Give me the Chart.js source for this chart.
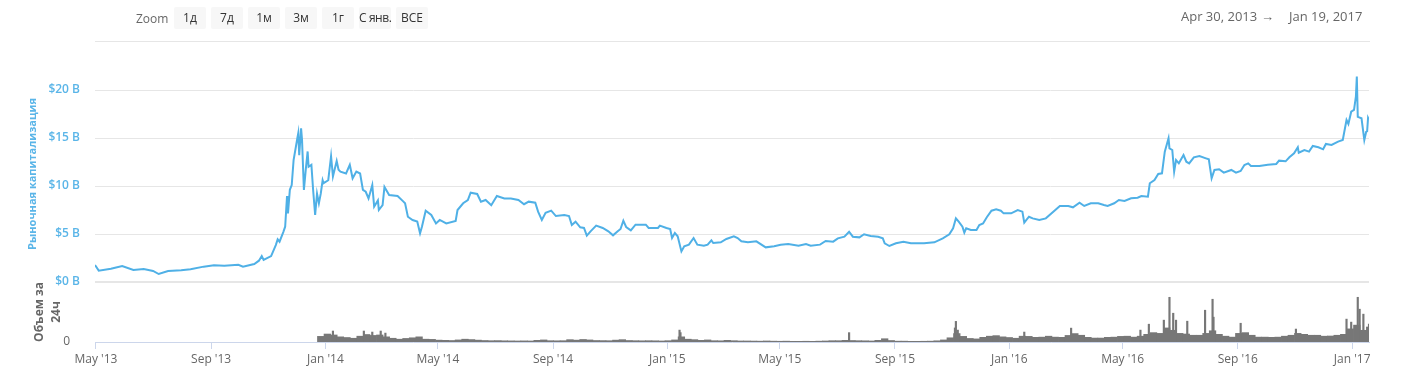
<!DOCTYPE html>
<html>
<head>
<meta charset="utf-8">
<script src="https://cdn.jsdelivr.net/npm/chart.js@4.4.0/dist/chart.umd.min.js"></script>
<style>
html, body { margin: 0; padding: 0; background: #fff; }
#wrap { position: relative; width: 1406px; height: 389px; overflow: hidden; font-family: 'Open Sans', sans-serif; }
#c { position: absolute; left: 0; top: 0; }
.zl { position: absolute; left: 136px; top: 10px; font-size: 12px; color: #666; }
.btn { position: absolute; top: 7px; width: 32px; height: 22px; line-height: 22px; background: #f7f7f7; color: #333; font-size: 12px; text-align: center; border-radius: 2px; white-space: nowrap; }
.rng { position: absolute; top: 7px; font-size: 13px; color: #666; white-space: pre; }
#sep { position: absolute; left: 95px; top: 41px; width: 1275px; height: 1px; background: #e6e6e6; }
</style>
</head>
<body>
<div id="wrap">
  <canvas id="c" width="1406" height="389"></canvas>
  <span class="zl">Zoom</span>
  <span class="btn" style="left:174px">1д</span>
  <span class="btn" style="left:211px">7д</span>
  <span class="btn" style="left:248px">1м</span>
  <span class="btn" style="left:285px">3м</span>
  <span class="btn" style="left:322px">1г</span>
  <span class="btn" style="left:359px;letter-spacing:-0.4px">С янв.</span>
  <span class="btn" style="left:396px">ВСЕ</span>
  <span class="rng" style="left:1181px">Apr 30, 2013</span>
  <span class="rng" style="left:1261px">→</span>
  <span class="rng" style="left:1289px">Jan 19, 2017</span>
  <div id="sep"></div>
</div>
<script>
// market cap, billions USD
var capDates = [
  '2013-04-30','2013-05-04','2013-05-17','2013-05-29','2013-06-10','2013-06-21','2013-07-01','2013-07-07',
  '2013-07-17','2013-07-31','2013-08-10','2013-08-24','2013-09-04','2013-09-15','2013-09-30','2013-10-05',
  '2013-10-17','2013-10-22','2013-10-25','2013-10-27','2013-11-04','2013-11-09','2013-11-11','2013-11-13',
  '2013-11-17','2013-11-19','2013-11-21','2013-11-22','2013-11-24','2013-11-26','2013-11-28','2013-12-02',
  '2013-12-03','2013-12-04','2013-12-06','2013-12-07','2013-12-09','2013-12-11','2013-12-13','2013-12-14',
  '2013-12-17','2013-12-19','2013-12-21','2013-12-23','2013-12-25','2013-12-27','2013-12-29','2013-12-30',
  '2014-01-04','2014-01-07','2014-01-09','2014-01-13','2014-01-15','2014-01-17','2014-01-23','2014-01-27',
  '2014-01-30','2014-02-03','2014-02-07','2014-02-10','2014-02-13','2014-02-16','2014-02-20','2014-02-22',
  '2014-02-26','2014-02-27','2014-03-03','2014-03-05','2014-03-10','2014-03-19','2014-03-25','2014-03-27',
  '2014-03-30','2014-04-04','2014-04-09','2014-04-12','2014-04-14','2014-04-18','2014-04-24','2014-04-29',
  '2014-05-03','2014-05-10','2014-05-20','2014-05-22','2014-05-28','2014-06-02','2014-06-05','2014-06-12',
  '2014-06-16','2014-06-21','2014-06-27','2014-07-03','2014-07-11','2014-07-18','2014-07-26','2014-08-01',
  '2014-08-06','2014-08-13','2014-08-16','2014-08-20','2014-08-24','2014-08-30','2014-09-04','2014-09-13',
  '2014-09-18','2014-09-21','2014-09-25','2014-09-30','2014-10-04','2014-10-07','2014-10-11','2014-10-17',
  '2014-10-24','2014-10-30','2014-11-04','2014-11-09','2014-11-12','2014-11-15','2014-11-18','2014-11-23',
  '2014-11-28','2014-12-09','2014-12-12','2014-12-22','2014-12-24','2014-12-31','2015-01-04','2015-01-06',
  '2015-01-09','2015-01-12','2015-01-16','2015-01-19','2015-01-24','2015-01-29','2015-02-02','2015-02-09',
  '2015-02-13','2015-02-17','2015-02-19','2015-02-27','2015-03-05','2015-03-13','2015-03-17','2015-03-21',
  '2015-03-28','2015-04-06','2015-04-16','2015-04-25','2015-05-02','2015-05-10','2015-05-21','2015-05-29',
  '2015-06-03','2015-06-13','2015-06-19','2015-06-27','2015-07-02','2015-07-09','2015-07-14','2015-07-18',
  '2015-07-25','2015-07-30','2015-08-06','2015-08-14','2015-08-19','2015-08-21','2015-08-26','2015-09-02',
  '2015-09-10','2015-09-18','2015-10-02','2015-10-13','2015-10-22','2015-10-29','2015-11-02','2015-11-05',
  '2015-11-08','2015-11-12','2015-11-14','2015-11-16','2015-11-21','2015-11-27','2015-11-30','2015-12-04',
  '2015-12-08','2015-12-13','2015-12-18','2015-12-23','2015-12-26','2016-01-03','2016-01-10','2016-01-15',
  '2016-01-17','2016-01-22','2016-01-26','2016-02-02','2016-02-09','2016-02-17','2016-02-24','2016-03-04',
  '2016-03-09','2016-03-16','2016-03-21','2016-03-28','2016-04-05','2016-04-11','2016-04-15','2016-04-22',
  '2016-04-27','2016-05-03','2016-05-10','2016-05-17','2016-05-21','2016-05-28','2016-05-30','2016-06-04',
  '2016-06-08','2016-06-12','2016-06-15','2016-06-19','2016-06-20','2016-06-23','2016-06-25','2016-06-27',
  '2016-06-30','2016-07-05','2016-07-08','2016-07-11','2016-07-16','2016-07-22','2016-07-29','2016-08-01',
  '2016-08-04','2016-08-07','2016-08-12','2016-08-17','2016-08-25','2016-08-30','2016-09-04','2016-09-08',
  '2016-09-12','2016-09-15','2016-09-24','2016-10-03','2016-10-12','2016-10-15','2016-10-22','2016-10-26',
  '2016-10-31','2016-11-04','2016-11-05','2016-11-11','2016-11-16','2016-11-20','2016-11-26','2016-12-01',
  '2016-12-04','2016-12-10','2016-12-17','2016-12-22','2016-12-26','2016-12-28','2016-12-31','2017-01-03',
  '2017-01-05','2017-01-06','2017-01-07','2017-01-11','2017-01-14','2017-01-16','2017-01-17','2017-01-18',
  '2017-01-19'
];
var capValues = [
  1.77, 1.18, 1.39, 1.67, 1.25, 1.35, 1.15, 0.83,
  1.15, 1.22, 1.32, 1.6, 1.74, 1.7, 1.8, 1.6,
  1.88, 2.22, 2.7, 2.3, 2.7, 3.85, 4.44, 4.2,
  5.2, 5.76, 8.96, 7.15, 9.6, 10.1, 12.7, 14.97,
  15.5, 13.2, 16.0, 14.8, 9.6, 11.7, 13.6, 12.0,
  12.2, 9.4, 7.0, 9.2, 8.2, 9.2, 10.6, 10.3,
  10.6, 13.1, 11.0, 12.6, 11.7, 11.5, 11.3, 12.2,
  10.8, 11.5, 11.3, 9.6, 9.4, 8.7, 10.1, 7.85,
  8.5, 7.5, 8.0, 9.9, 9.06, 8.96, 8.4, 8.2,
  6.8, 6.46, 6.3, 5.07, 5.76, 7.43, 6.98, 6.1,
  6.46, 6.1, 6.35, 7.5, 8.2, 8.54, 9.3, 9.17,
  8.37, 8.54, 8.0, 8.96, 8.7, 8.7, 8.54, 8.1,
  8.37, 8.26, 7.33, 6.46, 7.2, 7.43, 6.87, 6.98,
  6.87, 5.94, 6.28, 5.7, 5.63, 4.83, 5.28, 5.87,
  5.63, 5.28, 4.86, 5.28, 5.52, 6.39, 5.73, 5.38,
  5.97, 5.97, 5.63, 5.63, 5.87, 5.63, 5.52, 4.58,
  5.1, 4.76, 3.19, 3.72, 3.89, 4.58, 3.89, 3.78,
  3.89, 4.34, 4.06, 4.13, 4.48, 4.76, 4.58, 4.24,
  4.13, 4.24, 3.61, 3.72, 3.89, 3.96, 3.78, 3.96,
  3.78, 3.89, 4.27, 4.2, 4.55, 4.72, 5.24, 4.72,
  4.65, 4.97, 4.79, 4.72, 4.55, 4.03, 3.75, 4.03,
  4.2, 4.03, 4.03, 4.13, 4.55, 4.97, 5.6, 6.63,
  6.28, 5.76, 5.14, 5.6, 5.42, 5.42, 5.94, 6.1,
  6.74, 7.43, 7.57, 7.43, 7.15, 7.15, 7.5, 7.33,
  6.18, 6.8, 6.63, 6.46, 6.63, 7.33, 7.92, 7.92,
  7.78, 8.26, 7.92, 8.2, 8.2, 8.02, 7.92, 8.2,
  8.54, 8.44, 8.72, 8.78, 8.96, 8.89, 10.28, 10.63,
  11.25, 11.32, 13.58, 14.97, 13.92, 13.75, 11.5, 12.7,
  12.36, 13.23, 12.53, 12.36, 12.99, 13.13, 12.88, 12.78,
  10.8, 11.67, 11.74, 11.39, 11.67, 11.39, 11.56, 12.19,
  12.36, 12.08, 12.08, 12.22, 12.29, 12.64, 12.57, 12.99,
  13.4, 14.03, 13.47, 13.75, 13.58, 14.17, 14.03, 13.82,
  14.38, 14.27, 14.62, 14.79, 16.88, 16.46, 17.74, 17.92,
  19.3, 21.4, 17.2, 17.05, 14.79, 15.66, 15.7, 17.1,
  16.9
];

// 24h volume, millions USD (weekly level)
var volDates = [
  '2013-12-27','2014-01-03','2014-01-10','2014-01-17','2014-01-24','2014-01-31','2014-02-07','2014-02-14',
  '2014-02-21','2014-02-28','2014-03-07','2014-03-14','2014-03-21','2014-03-28','2014-04-04','2014-04-11',
  '2014-04-18','2014-04-25','2014-05-02','2014-05-09','2014-05-16','2014-05-23','2014-05-30','2014-06-06',
  '2014-06-13','2014-06-20','2014-06-27','2014-07-04','2014-07-11','2014-07-18','2014-07-25','2014-08-01',
  '2014-08-08','2014-08-15','2014-08-22','2014-08-29','2014-09-05','2014-09-12','2014-09-19','2014-09-26',
  '2014-10-03','2014-10-10','2014-10-17','2014-10-24','2014-10-31','2014-11-07','2014-11-14','2014-11-21',
  '2014-11-28','2014-12-05','2014-12-12','2014-12-19','2014-12-26','2015-01-02','2015-01-09','2015-01-16',
  '2015-01-23','2015-01-30','2015-02-06','2015-02-13','2015-02-20','2015-02-27','2015-03-06','2015-03-13',
  '2015-03-20','2015-03-27','2015-04-03','2015-04-10','2015-04-17','2015-04-24','2015-05-01','2015-05-08',
  '2015-05-15','2015-05-22','2015-05-29','2015-06-05','2015-06-12','2015-06-19','2015-06-26','2015-07-03',
  '2015-07-10','2015-07-17','2015-07-24','2015-07-31','2015-08-07','2015-08-14','2015-08-21','2015-08-28',
  '2015-09-04','2015-09-11','2015-09-18','2015-09-25','2015-10-02','2015-10-09','2015-10-16','2015-10-23',
  '2015-10-30','2015-11-06','2015-11-13','2015-11-20','2015-11-27','2015-12-04','2015-12-11','2015-12-18',
  '2015-12-25','2016-01-01','2016-01-08','2016-01-15','2016-01-22','2016-01-29','2016-02-05','2016-02-12',
  '2016-02-19','2016-02-26','2016-03-04','2016-03-11','2016-03-18','2016-03-25','2016-04-01','2016-04-08',
  '2016-04-15','2016-04-22','2016-04-29','2016-05-06','2016-05-13','2016-05-20','2016-05-27','2016-06-03',
  '2016-06-10','2016-06-17','2016-06-24','2016-07-01','2016-07-08','2016-07-15','2016-07-22','2016-07-29',
  '2016-08-05','2016-08-12','2016-08-19','2016-08-26','2016-09-02','2016-09-09','2016-09-16','2016-09-23',
  '2016-09-30','2016-10-07','2016-10-14','2016-10-21','2016-10-28','2016-11-04','2016-11-11','2016-11-18',
  '2016-11-25','2016-12-02','2016-12-09','2016-12-16','2016-12-23','2016-12-30','2017-01-06','2017-01-13'
];
var volValues = [
  60, 85, 75, 55, 48, 40, 62, 80,
  70, 75, 55, 40, 30, 38, 45, 55,
  30, 28, 20, 18, 16, 22, 30, 26,
  20, 16, 14, 15, 13, 12, 11, 12,
  11, 18, 22, 14, 13, 14, 25, 20,
  27, 22, 16, 15, 14, 20, 25, 16,
  14, 13, 14, 13, 11, 14, 22, 55,
  30, 25, 18, 22, 14, 13, 18, 14,
  11, 11, 10, 9, 11, 9, 8, 9,
  7, 7, 8, 7, 9, 11, 14, 14,
  18, 16, 14, 13, 11, 18, 35, 16,
  9, 9, 7, 7, 8, 9, 13, 22,
  45, 90, 60, 38, 33, 50, 62, 68,
  55, 48, 40, 62, 60, 50, 52, 62,
  52, 50, 70, 90, 72, 50, 42, 42,
  50, 52, 60, 62, 52, 62, 82, 100,
  92, 150, 125, 92, 85, 72, 72, 92,
  120, 82, 62, 52, 92, 100, 72, 52,
  52, 50, 52, 62, 72, 92, 82, 72,
  72, 62, 64, 72, 82, 140, 180, 125
];

// single days that stand out above the weekly level
var spikeDates = [
  '2014-01-09','2014-02-11','2014-02-20','2014-03-01','2014-03-06','2015-01-14','2015-01-15','2015-07-14',
  '2015-11-04','2015-11-05','2015-11-07','2016-01-17','2016-03-07','2016-05-20','2016-05-29','2016-06-14',
  '2016-06-20','2016-06-24','2016-06-27','2016-07-09','2016-07-28','2016-08-05','2016-08-06','2016-09-04',
  '2016-11-02','2016-12-26','2016-12-31','2017-01-07','2017-01-09','2017-01-13','2017-01-17','2017-01-19'
];
var spikeValues = [
  117, 117, 106, 117, 95, 127, 100, 100,
  150, 220, 127, 106, 148, 127, 190, 233,
  477, 307, 233, 222, 339, 456, 265, 200,
  138, 244, 212, 477, 350, 297, 160, 190
];

var xTickDates = ['2013-05-01','2013-09-01','2014-01-01','2014-05-01','2014-09-01','2015-01-01',
  '2015-05-01','2015-09-01','2016-01-01','2016-05-01','2016-09-01','2017-01-01'];
var xTickLabels = ["May '13","Sep '13","Jan '14","May '14","Sep '14","Jan '15",
  "May '15","Sep '15","Jan '16","May '16","Sep '16","Jan '17"];

var BLUE = '#4fb0e6';
var BLUE_TXT = '#5ab5e8';
var GREY = '#777777';

function pts(dates, vals) {
  return dates.map(function (d, i) { return { x: Date.parse(d), y: vals[i] }; });
}

Chart.defaults.font.family = "'Open Sans', sans-serif";

var ctx = document.getElementById('c').getContext('2d');
var chart = new Chart(ctx, {
  type: 'line',
  data: {
    datasets: [{
      type: 'line',
      label: 'Рыночная капитализация',
      data: pts(capDates, capValues),
      yAxisID: 'y',
      borderColor: BLUE,
      borderWidth: 2,
      pointRadius: 0,
      tension: 0
    }, {
      type: 'bar',
      label: 'Объем за 24ч',
      data: pts(volDates, volValues),
      yAxisID: 'y2',
      backgroundColor: GREY,
      barThickness: 6.6,
      grouped: false
    }, {
      type: 'bar',
      label: 'Объем за 24ч (пики)',
      data: pts(spikeDates, spikeValues),
      yAxisID: 'y2',
      backgroundColor: GREY,
      barThickness: 1.5,
      grouped: false
    }]
  },
  options: {
    responsive: false,
    animation: false,
    layout: { padding: { left: 0, right: 37, top: 66, bottom: 0 } },
    plugins: { legend: { display: false }, tooltip: { enabled: false } },
    scales: {
      x: {
        type: 'linear',
        offset: false,
        min: Date.parse('2013-04-30'),
        max: Date.parse('2017-01-19'),
        afterBuildTicks: function (s) { s.ticks = xTickDates.map(function (d) { return { value: Date.parse(d) }; }); },
        afterFit: function (s) { s.height = 47; },
        ticks: {
          callback: function (v, i) { return xTickLabels[i]; },
          color: '#666', font: { size: 12 }, padding: 3, maxRotation: 0, autoSkip: false
        },
        grid: { offset: false, drawOnChartArea: false, drawTicks: true, tickLength: 7, color: '#ccd6eb' },
        border: { color: '#ccd6eb' }
      },
      // volume panel is listed first so the market cap panel is placed above it
      y2: {
        stack: 'v', stackWeight: 1, position: 'left',
        min: 0, max: 640,
        afterFit: function (s) { s.width = 95; },
        afterBuildTicks: function (s) { s.ticks = [{ value: 0 }]; },
        ticks: { callback: function () { return '0'; }, color: '#666', font: { size: 12 }, padding: 17 },
        grid: { display: false },
        border: { display: false },
        title: {
          display: true, text: ['Объем за', '24ч'], color: '#666',
          font: { size: 12, weight: 'bold', lineHeight: '17px' }, padding: { top: 31, bottom: 0 }
        }
      },
      y: {
        stack: 'v', stackWeight: 3.6, position: 'left',
        min: 0, max: 22.5,
        afterFit: function (s) { s.width = 95; },
        ticks: {
          stepSize: 5, includeBounds: false,
          callback: function (v) { return '$' + v + ' B'; },
          color: BLUE_TXT, font: { size: 12, weight: '600' }, padding: 15
        },
        grid: {
          color: '#e6e6e6', drawTicks: false,
          lineWidth: function (c) { return c.tick && c.tick.value === 0 ? 2 : 1; }
        },
        border: { display: false },
        title: {
          display: true, text: 'Рыночная капитализация', color: BLUE_TXT,
          font: { size: 11, weight: 'bold' }, padding: { top: 26, bottom: 0 },
          align: 'center'
        }
      }
    }
  }
});
</script>
</body>
</html>
